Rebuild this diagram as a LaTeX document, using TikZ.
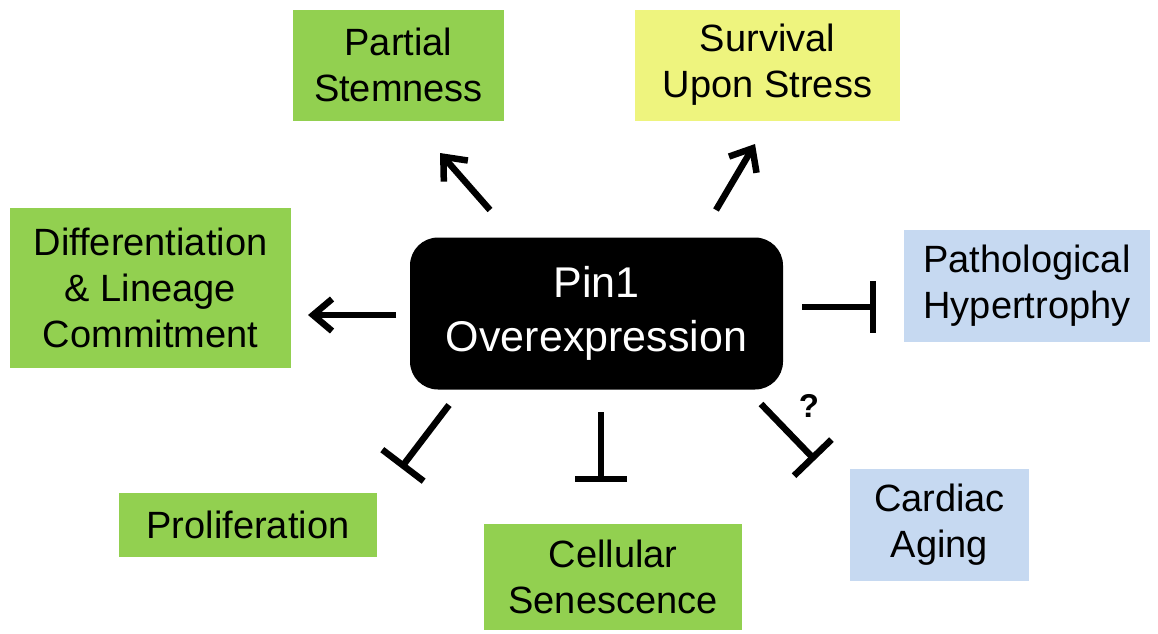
\documentclass[tikz,border=0pt]{standalone}
\usepackage{fontspec}
\setmainfont{Liberation Sans}
\usetikzlibrary{arrows.meta}
\definecolor{boxgreen}{HTML}{92D050}
\definecolor{boxyellow}{HTML}{EEF47E}
\definecolor{boxblue}{HTML}{C6D9F1}
\begin{document}
\begin{tikzpicture}[x=1pt,y=-1pt,
  box/.style={draw=none, align=center, inner sep=0pt, font=\fontsize{38}{46}\selectfont},
  gbox/.style={box, fill=boxgreen},
  ybox/.style={box, fill=boxyellow},
  bbox/.style={box, fill=boxblue},
  arr/.style={line width=6.5pt, -{Straight Barb[length=19pt,width=32pt]}},
  inh/.style={line width=6.5pt, -{Bar[width=52pt]}}]
\useasboundingbox (0,0) rectangle (1158,633);

\node[gbox, minimum width=211pt, minimum height=111pt] (stem) at (398.5,65) {Partial\\Stemness};
\node[ybox, minimum width=265pt, minimum height=111pt] (surv) at (767.5,65) {Survival\\Upon Stress};
\node[gbox, minimum width=281pt, minimum height=160pt] (diff) at (150.5,287.5) {Differentiation\\\& Lineage\\Commitment};
\node[bbox, minimum width=246pt, minimum height=112pt] (path) at (1027,286) {Pathological\\Hypertrophy};
\node[gbox, minimum width=258pt, minimum height=64pt] (prol) at (248,525) {Proliferation};
\node[gbox, minimum width=258pt, minimum height=106pt] (sene) at (613,577) {Cellular\\Senescence};
\node[bbox, minimum width=179pt, minimum height=112pt] (card) at (939.5,525) {Cardiac\\Aging};
\node[fill=black, text=white, rounded corners=28pt, align=center, inner sep=0pt,
      minimum width=373pt, minimum height=152pt,
      font=\fontsize{43}{54}\selectfont] (pin) at (596.5,313.5) {Pin1\\Overexpression};

\coordinate (s1) at (490,210); \coordinate (e1) at (440,153);
\coordinate (s2) at (716,210); \coordinate (e2) at (755,144);
\coordinate (s3) at (396,315); \coordinate (e3) at (308,315);
\coordinate (s4) at (802,307); \coordinate (e4) at (876,307);
\coordinate (s5) at (449,405); \coordinate (e5) at (401,468);
\coordinate (s6) at (601,412); \coordinate (e6) at (601,482);
\coordinate (s7) at (761,404); \coordinate (e7) at (815,460);

\draw[arr] (s1) -- (e1);
\draw[arr] (s2) -- (e2);
\draw[arr] (s3) -- (e3);
\draw[inh] (s4) -- (e4);
\draw[inh] (s5) -- (e5);
\draw[inh] (s6) -- (e6);
\draw[inh] (s7) -- (e7);

\node[font=\fontsize{33}{33}\selectfont\bfseries, inner sep=0pt] (q) at (809,406) {?};
\end{tikzpicture}
\end{document}
